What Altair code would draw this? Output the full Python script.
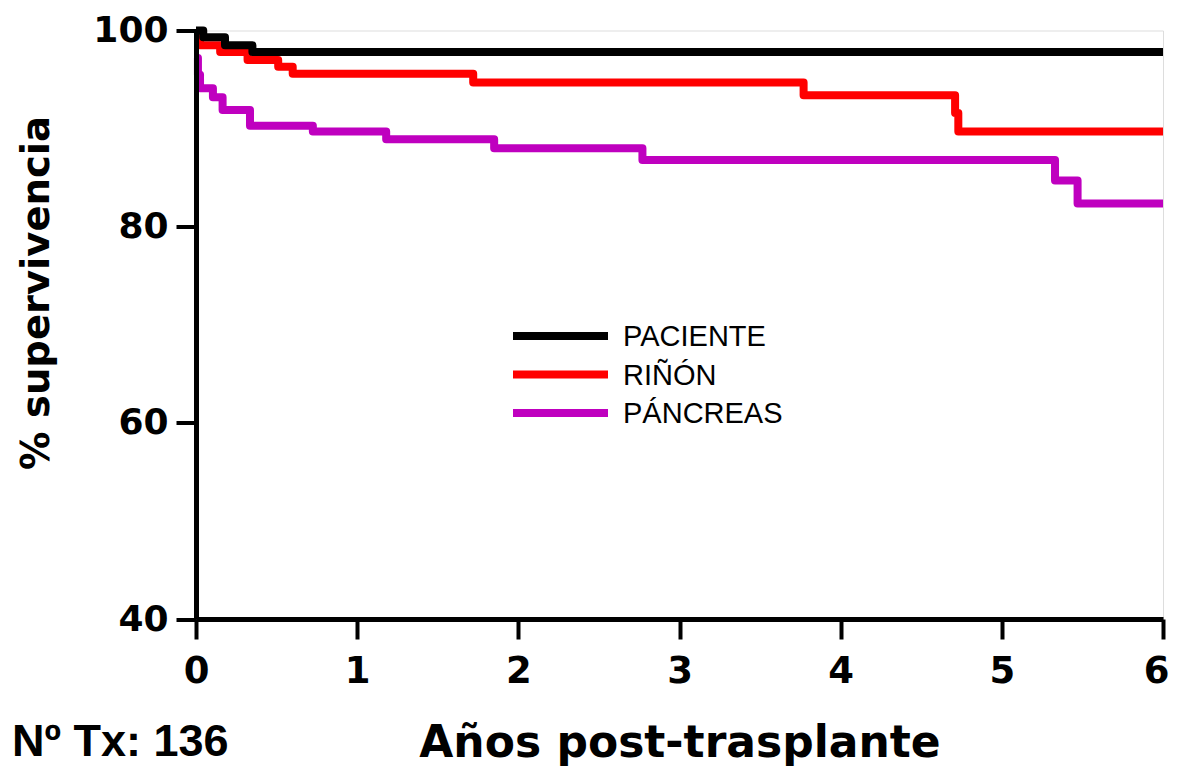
import altair as alt
import pandas as pd

series_names = ["PACIENTE", "RIÑÓN", "PÁNCREAS"]
series_colors = ["#000000", "#ff0000", "#bf00bf"]

paciente_t = [0, 0.045, 0.18, 0.35, 6.0]
paciente_s = [100, 99.3, 98.5, 97.8, 97.8]

rinon_t = [0, 0.025, 0.15, 0.32, 0.51, 0.60, 1.72, 3.77, 4.71, 4.73, 6.0]
rinon_s = [99.3, 98.5, 97.8, 97.0, 96.3, 95.6, 94.7, 93.4, 91.6, 89.7, 89.7]

pancreas_t = [0, 0.012, 0.025, 0.105, 0.165, 0.335, 0.725, 1.18, 1.85, 2.77, 5.33, 5.47, 6.0]
pancreas_s = [97.2, 95.5, 94.1, 93.2, 91.9, 90.3, 89.7, 88.9, 88.0, 86.8, 84.7, 82.35, 82.35]

x_ticks = [0, 1, 2, 3, 4, 5, 6]
y_ticks = [40, 60, 80, 100]

x_title = "Años post-trasplante"
y_title = "% supervivencia"
note_text = "Nº Tx: 136"

W, H = 967, 588.5
BOLD = "DejaVu Sans"

x_axis = alt.Axis(
    values=x_ticks, format="d", title=x_title,
    titleFont=BOLD, titleFontSize=44, titleFontWeight="bold", titleColor="black",
    titleX=W / 2, titleY=137, titleAlign="center", titleBaseline="alphabetic",
    labelFont=BOLD, labelFontSize=37, labelFontWeight="bold", labelColor="black",
    labelPadding=14, labelFlush=False,
    labelOffset={"condition": {"test": "datum.value == 6", "value": -7}, "value": 0},
    tickSize=20, tickWidth=4, tickColor="black",
    domainColor="black", domainWidth=5, grid=False, zindex=1,
)
y_axis = alt.Axis(
    values=y_ticks, format="d", title=y_title,
    titleFont=BOLD, titleFontSize=38.5, titleFontWeight="bold", titleColor="black",
    titleAngle=270, titleX=-160, titleY=262, titleAlign="center", titleBaseline="middle",
    labelFont=BOLD, labelFontSize=36, labelFontWeight="bold", labelColor="black",
    labelPadding=8, labelFlush=False,
    tickSize=20, tickWidth=4, tickColor="black",
    domainColor="black", domainWidth=5, grid=False, zindex=1,
)

xs = alt.Scale(domain=[0, 6], nice=False, zero=False)
ys = alt.Scale(domain=[40, 100], nice=False, zero=False)


def curve(ts, ss, color):
    df = pd.DataFrame({"t": ts, "s": ss})
    return alt.Chart(df).mark_line(
        interpolate="step-after", strokeWidth=8, strokeJoin="round",
        strokeCap="butt", color=color, clip=False,
    ).encode(
        x=alt.X("t:Q", scale=xs, axis=x_axis),
        y=alt.Y("s:Q", scale=ys, axis=y_axis),
    )


layers = [
    curve(pancreas_t, pancreas_s, series_colors[2]),
    curve(rinon_t, rinon_s, series_colors[1]),
    curve(paciente_t, paciente_s, series_colors[0]),
]

one = pd.DataFrame({"k": [0]})
for i, (name, col) in enumerate(zip(series_names, series_colors)):
    yy = 305.5 + i * 38.5
    layers.append(
        alt.Chart(one).mark_rule(color=col, strokeWidth=8).encode(
            x=alt.value(317), x2=alt.value(412), y=alt.value(yy)
        )
    )
    layers.append(
        alt.Chart(one).mark_text(
            text=name, align="left", baseline="middle",
            font="Liberation Sans", fontSize=29, color="black",
        ).encode(x=alt.value(427), y=alt.value(yy + 1))
    )

layers.append(
    alt.Chart(one).mark_text(
        text=note_text, align="left", baseline="alphabetic",
        font="Liberation Sans", fontWeight="bold", fontSize=45, color="black",
    ).encode(x=alt.value(-184), y=alt.value(725.5))
)

chart = alt.layer(*layers).properties(
    width=W, height=H,
    autosize=alt.AutoSizeParams(type="none"),
    padding={"left": 188, "top": 22.5, "right": 7, "bottom": 147},
).configure_view(stroke=None).configure(background="white")

chart.save("out.html", embed_options={"renderer": "svg", "actions": False})
